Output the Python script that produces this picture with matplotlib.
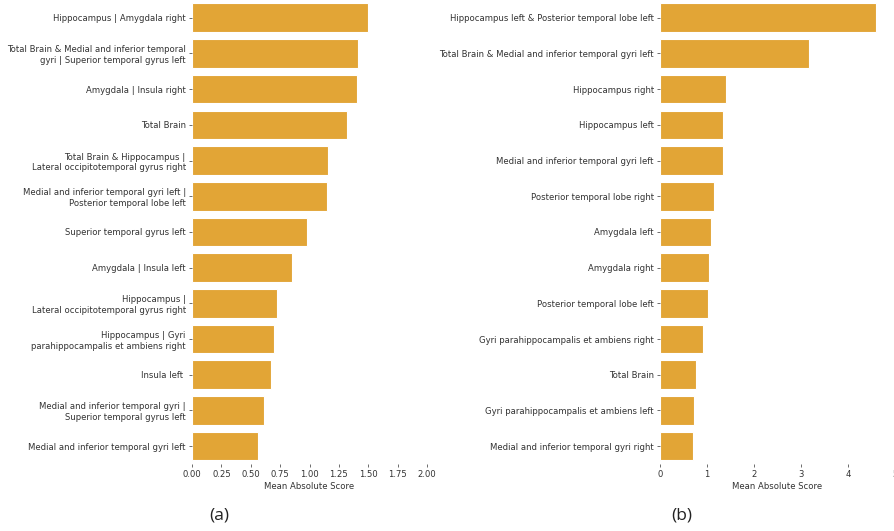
import matplotlib.pyplot as plt

labels_a = [
    "Hippocampus | Amygdala right",
    "Total Brain & Medial and inferior temporal\ngyri | Superior temporal gyrus left",
    "Amygdala | Insula right",
    "Total Brain",
    "Total Brain & Hippocampus |\nLateral occipitotemporal gyrus right",
    "Medial and inferior temporal gyri left |\nPosterior temporal lobe left",
    "Superior temporal gyrus left",
    "Amygdala | Insula left",
    "Hippocampus |\nLateral occipitotemporal gyrus right",
    "Hippocampus | Gyri\nparahippocampalis et ambiens right",
    "Insula left ",
    "Medial and inferior temporal gyri |\nSuperior temporal gyrus left",
    "Medial and inferior temporal gyri left",
]
scores_a = [1.50, 1.41, 1.40, 1.32, 1.16, 1.15, 0.975, 0.85, 0.72, 0.70, 0.67, 0.61, 0.56]

labels_b = [
    "Hippocampus left & Posterior temporal lobe left",
    "Total Brain & Medial and inferior temporal gyri left",
    "Hippocampus right",
    "Hippocampus left",
    "Medial and inferior temporal gyri left",
    "Posterior temporal lobe right",
    "Amygdala left",
    "Amygdala right",
    "Posterior temporal lobe left",
    "Gyri parahippocampalis et ambiens right",
    "Total Brain",
    "Gyri parahippocampalis et ambiens left",
    "Medial and inferior temporal gyri right",
]
scores_b = [4.60, 3.16, 1.41, 1.33, 1.33, 1.14, 1.08, 1.05, 1.03, 0.915, 0.77, 0.72, 0.71]

BAR_COLOR = "#E2A536"
TXT = "#333333"
FS = 6.1

fig = plt.figure(figsize=(8.94, 5.31), dpi=100)

def draw(ax, labels, scores, xmax, ticks, ticklabels):
    y = range(len(labels))
    ax.barh(y, scores, height=0.8, color=BAR_COLOR, edgecolor="white", linewidth=0.8)
    ax.set_yticks(list(y))
    ax.set_yticklabels(labels, fontsize=FS, color=TXT, linespacing=1.25)
    ax.set_ylim(len(labels) - 0.5, -0.5)
    ax.set_xlim(0, xmax)
    ax.set_xticks(ticks)
    ax.set_xticklabels(ticklabels, fontsize=FS, color=TXT)
    ax.set_xlabel("Mean Absolute Score", fontsize=FS, color=TXT, labelpad=2)
    for s in ax.spines.values():
        s.set_visible(False)
    ax.tick_params(length=2.5, width=0.6, color="#555555", pad=2)

ax1 = fig.add_axes([0.2148, 0.1262, 0.2629, 0.874])
draw(ax1, labels_a, scores_a, 2.0,
     [0, 0.25, 0.5, 0.75, 1.0, 1.25, 1.5, 1.75, 2.0],
     ["0.00", "0.25", "0.50", "0.75", "1.00", "1.25", "1.50", "1.75", "2.00"])

ax2 = fig.add_axes([0.7383, 0.1262, 0.2629, 0.874])
draw(ax2, labels_b, scores_b, 5.0, [0, 1, 2, 3, 4, 5], ["0", "1", "2", "3", "4", "5"])

fig.text(219 / 894, 1 - 515 / 531, "(a)", fontsize=12.5, family="Open Sans",
         ha="center", va="center", color="#222222")
fig.text(682 / 894, 1 - 515 / 531, "(b)", fontsize=12.5, family="Open Sans",
         ha="center", va="center", color="#222222")

fig.savefig("out.png", dpi=100)
